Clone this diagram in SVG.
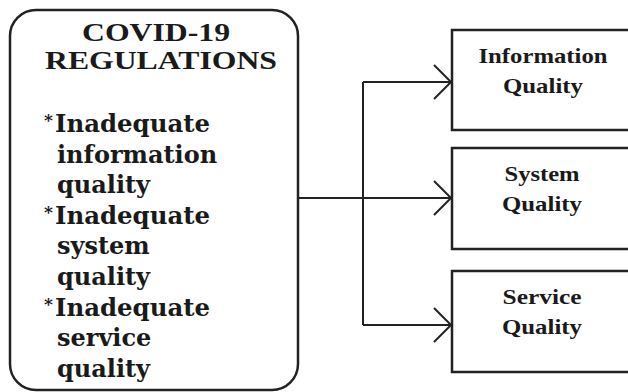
<svg xmlns="http://www.w3.org/2000/svg" width="628" height="392" viewBox="0 0 628 392">
<style>
.box{fill:#fff;stroke:#222;stroke-width:2.5}
.title{font-family:"Liberation Serif","Times New Roman",serif;font-weight:bold;font-size:25.5px;fill:#1a1a1a;text-anchor:middle}
.body{font-family:"DejaVu Serif","Liberation Serif",serif;font-weight:bold;font-size:24px;fill:#1a1a1a}
.star{font-family:"DejaVu Serif","Liberation Serif",serif;font-weight:bold;font-size:17px;fill:#1a1a1a}
.lbl{font-family:"Liberation Serif","Times New Roman",serif;font-weight:bold;font-size:21px;fill:#1a1a1a;text-anchor:middle}
.conn{fill:none;stroke:#222;stroke-width:2}
</style>
<defs>
<marker id="arr" markerUnits="userSpaceOnUse" markerWidth="24" markerHeight="40" viewBox="-20 -20 24 40" refX="0" refY="0" orient="auto">
<path d="M-17,-17 L0,0 L-17,17" fill="none" stroke="#222" stroke-width="2"/>
</marker>
</defs>
<rect width="628" height="392" fill="#fff"/>
<g id="connectors">
<path class="conn" d="M298,198 H451" marker-end="url(#arr)"/>
<path class="conn" d="M363,82 V325"/>
<path class="conn" d="M363,82 H451" marker-end="url(#arr)"/>
<path class="conn" d="M363,325 H451" marker-end="url(#arr)"/>
</g>
<g id="covid">
<rect class="box" x="10" y="10" width="288" height="380" rx="26" ry="26"/>
<text class="title" x="156" y="41" textLength="148" lengthAdjust="spacingAndGlyphs">COVID-19</text>
<text class="title" x="161" y="69" textLength="232" lengthAdjust="spacingAndGlyphs">REGULATIONS</text>
<text class="star" x="44" y="126">*</text>
<text class="body" x="55" y="132" textLength="155" lengthAdjust="spacingAndGlyphs">Inadequate</text>
<text class="body" x="57" y="163">information</text>
<text class="body" x="57" y="193">quality</text>
<text class="star" x="44" y="218">*</text>
<text class="body" x="55" y="224" textLength="155" lengthAdjust="spacingAndGlyphs">Inadequate</text>
<text class="body" x="57" y="254">system</text>
<text class="body" x="57" y="285">quality</text>
<text class="star" x="44" y="310">*</text>
<text class="body" x="55" y="316" textLength="155" lengthAdjust="spacingAndGlyphs">Inadequate</text>
<text class="body" x="57" y="346">service</text>
<text class="body" x="57" y="377">quality</text>
</g>
<g id="info">
<rect class="box" x="452" y="30" width="200" height="100"/>
<text class="lbl" x="543" y="63" textLength="129" lengthAdjust="spacingAndGlyphs">Information</text>
<text class="lbl" x="543" y="93" textLength="80" lengthAdjust="spacingAndGlyphs">Quality</text>
</g>
<g id="system">
<rect class="box" x="452" y="148" width="200" height="101"/>
<text class="lbl" x="542" y="181" textLength="75" lengthAdjust="spacingAndGlyphs">System</text>
<text class="lbl" x="542" y="211" textLength="80" lengthAdjust="spacingAndGlyphs">Quality</text>
</g>
<g id="service">
<rect class="box" x="452" y="271" width="200" height="101"/>
<text class="lbl" x="542" y="304" textLength="79" lengthAdjust="spacingAndGlyphs">Service</text>
<text class="lbl" x="542" y="334" textLength="80" lengthAdjust="spacingAndGlyphs">Quality</text>
</g>
</svg>
